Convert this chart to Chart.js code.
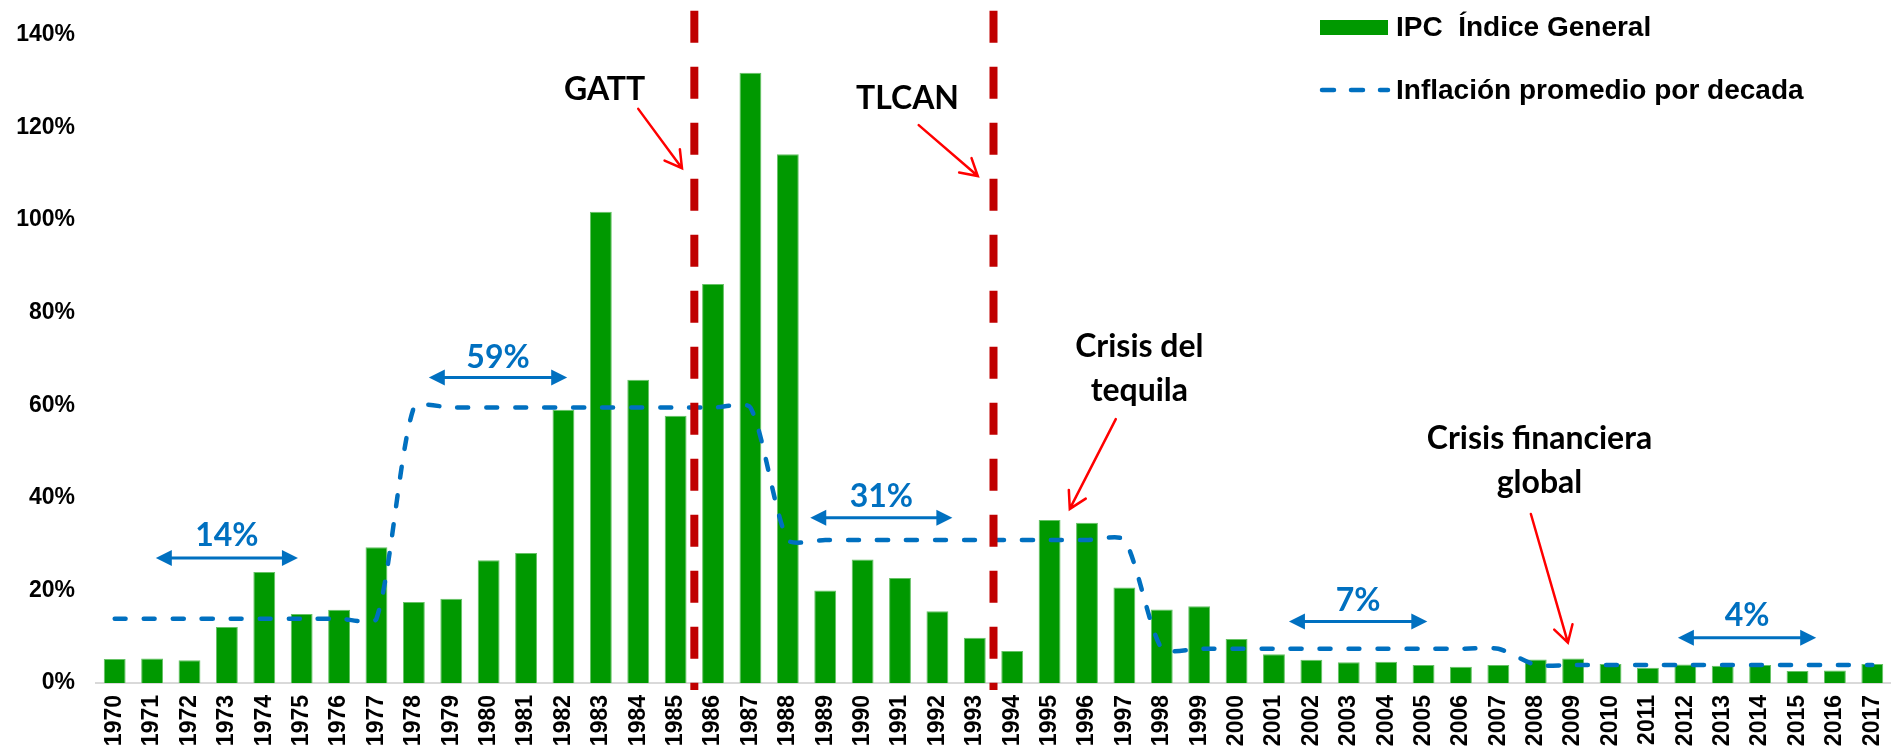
<!DOCTYPE html>
<html>
<head>
<meta charset="utf-8">
<script src="https://cdn.jsdelivr.net/npm/chart.js@4/dist/chart.umd.min.js"></script>
<style>
    html, body { margin: 0; padding: 0; background: #fff; }
    #wrap { width: 1891px; height: 749px; }
</style>
</head>
<body>
<div id="wrap"><canvas id="chart" width="1891" height="749"></canvas></div>
<script>
// Inflación anual México (IPC) y promedio por década

const years = ['1970', '1971', '1972', '1973', '1974', '1975', '1976', '1977', '1978', '1979',
    '1980', '1981', '1982', '1983', '1984', '1985', '1986', '1987', '1988', '1989',
    '1990', '1991', '1992', '1993', '1994', '1995', '1996', '1997', '1998', '1999',
    '2000', '2001', '2002', '2003', '2004', '2005', '2006', '2007', '2008', '2009',
    '2010', '2011', '2012', '2013', '2014', '2015', '2016', '2017'];

const ipc = [5.2, 5.3, 4.9, 12.1, 24.0, 14.9, 15.8, 29.3, 17.5, 18.2,
    26.5, 28.1, 59.0, 101.8, 65.5, 57.7, 86.2, 131.8, 114.2, 20.0,
    26.7, 22.7, 15.5, 9.8, 6.9, 35.2, 34.6, 20.6, 15.9, 16.6,
    9.5, 6.2, 5.0, 4.5, 4.6, 3.9, 3.5, 3.9, 5.1, 5.3,
    4.1, 3.3, 4.0, 3.7, 3.9, 2.6, 2.7, 4.1];

const promedioDecada = [13.9, 13.9, 13.9, 13.9, 13.9, 13.9, 13.9, 13.9, 59.5, 59.5,
    59.5, 59.5, 59.5, 59.5, 59.5, 59.5, 59.5, 59.5, 30.9, 30.9,
    30.9, 30.9, 30.9, 30.9, 30.9, 30.9, 30.9, 30.9, 7.4, 7.4,
    7.4, 7.4, 7.4, 7.4, 7.4, 7.4, 7.4, 7.4, 3.9, 3.9,
    3.9, 3.9, 3.9, 3.9, 3.9, 3.9, 3.9, 3.9];

const yTicks = [0, 20, 40, 60, 80, 100, 120, 140];

// eventos: posición entre categorías (índice)
const eventos = [15.5, 23.5];

// flechas azules de cada década: [texto, desde, hasta, valor flecha, valor texto]
const decadas = [
    ['14%', 1.1, 4.9, 27.0, 29.6],
    ['59%', 8.4, 12.1, 66.0, 68.1],
    ['31%', 18.6, 22.4, 35.7, 38.1],
    ['7%', 31.4, 35.1, 13.3, 15.6],
    ['4%', 41.8, 45.5, 9.8, 12.4]
];

// notas: [texto, índice, valor de la línea base]
const notas = [
    ['GATT', 13.1, 125.9],
    ['TLCAN', 21.2, 123.9],
    ['Crisis del', 27.4, 70.5],
    ['tequila', 27.4, 60.8],
    ['Crisis financiera', 38.1, 50.5],
    ['global', 38.1, 41.0]
];

// flechas rojas: [índice inicio, valor inicio, índice fin, valor fin]
const flechas = [
    [14.0, 124.0, 15.17, 111.2],
    [21.5, 120.5, 23.08, 109.5],
    [26.77, 57.0, 25.54, 37.6],
    [37.87, 36.5, 38.86, 8.7]
];

const VERDE = '#009900';
const AZUL = '#0070C0';
const ROJO_OSCURO = '#C00000';
const ROJO = '#FF0000';
const FONT_ARIAL = '"Liberation Sans", Arial, sans-serif';
const FONT_NOTA = 'Lato, "Open Sans", sans-serif';

function flechaAzul(ctx, x1, x2, y) {
    const head = 16, half = 8;
    ctx.strokeStyle = AZUL;
    ctx.fillStyle = AZUL;
    ctx.lineWidth = 3;
    ctx.setLineDash([]);
    ctx.beginPath();
    ctx.moveTo(x1 + head - 2, y);
    ctx.lineTo(x2 - head + 2, y);
    ctx.stroke();
    ctx.beginPath();
    ctx.moveTo(x1, y);
    ctx.lineTo(x1 + head, y - half);
    ctx.lineTo(x1 + head, y + half);
    ctx.closePath();
    ctx.fill();
    ctx.beginPath();
    ctx.moveTo(x2, y);
    ctx.lineTo(x2 - head, y - half);
    ctx.lineTo(x2 - head, y + half);
    ctx.closePath();
    ctx.fill();
}

function flechaRoja(ctx, x1, y1, x2, y2) {
    const ang = Math.atan2(y2 - y1, x2 - x1);
    const len = 19, spread = Math.PI / 6;
    ctx.strokeStyle = ROJO;
    ctx.lineWidth = 2.5;
    ctx.setLineDash([]);
    ctx.lineCap = 'round';
    ctx.beginPath();
    ctx.moveTo(x1, y1);
    ctx.lineTo(x2, y2);
    ctx.moveTo(x2 - len * Math.cos(ang - spread), y2 - len * Math.sin(ang - spread));
    ctx.lineTo(x2, y2);
    ctx.lineTo(x2 - len * Math.cos(ang + spread), y2 - len * Math.sin(ang + spread));
    ctx.stroke();
}

const anotaciones = {
    id: 'anotaciones',
    afterDatasetsDraw(chart) {
        const ctx = chart.ctx;
        const x = chart.scales.x;
        const y = chart.scales.y;
        ctx.save();

        // líneas verticales GATT / TLCAN
        eventos.forEach(ev => {
            const px = x.getPixelForValue(ev);
            ctx.strokeStyle = ROJO_OSCURO;
            ctx.lineWidth = 8;
            ctx.lineCap = 'butt';
            ctx.setLineDash([32, 24]);
            ctx.beginPath();
            ctx.moveTo(px, y.getPixelForValue(145.2));
            ctx.lineTo(px, y.getPixelForValue(-1.5));
            ctx.stroke();
        });

        // promedios por década
        decadas.forEach(([txt, a, b, va, vt]) => {
            const x1 = x.getPixelForValue(a);
            const x2 = x.getPixelForValue(b);
            flechaAzul(ctx, x1, x2, y.getPixelForValue(va));
            ctx.fillStyle = AZUL;
            ctx.font = 'bold 32px ' + FONT_NOTA;
            ctx.textAlign = 'center';
            ctx.textBaseline = 'alphabetic';
            ctx.fillText(txt, (x1 + x2) / 2, y.getPixelForValue(vt));
        });

        // notas de texto
        notas.forEach(([txt, i, v]) => {
            ctx.fillStyle = '#000';
            ctx.font = 'bold 32px ' + FONT_NOTA;
            ctx.textAlign = 'center';
            ctx.textBaseline = 'alphabetic';
            ctx.fillText(txt, x.getPixelForValue(i), y.getPixelForValue(v));
        });

        flechas.forEach(([i1, v1, i2, v2]) => {
            flechaRoja(ctx, x.getPixelForValue(i1), y.getPixelForValue(v1),
                x.getPixelForValue(i2), y.getPixelForValue(v2));
        });

        // leyenda
        const lx = 1320;
        ctx.fillStyle = VERDE;
        ctx.fillRect(lx, 20, 68, 15);
        ctx.strokeStyle = AZUL;
        ctx.lineWidth = 4.5;
        ctx.lineCap = 'round';
        ctx.setLineDash([12, 17]);
        ctx.beginPath();
        ctx.moveTo(lx + 2, 90);
        ctx.lineTo(lx + 68, 90);
        ctx.stroke();
        ctx.setLineDash([]);
        ctx.fillStyle = '#000';
        ctx.font = 'bold 28px ' + FONT_ARIAL;
        ctx.textAlign = 'left';
        ctx.textBaseline = 'middle';
        ctx.fillText('IPC  Índice General', lx + 76, 28);
        ctx.fillText('Inflación promedio por decada', lx + 76, 91);

        ctx.restore();
    }
};

new Chart(document.getElementById('chart'), {
    data: {
        labels: years,
        datasets: [
            {
                type: 'line',
                label: 'Inflación promedio por decada',
                data: promedioDecada,
                borderColor: AZUL,
                borderWidth: 4.5,
                borderDash: [11, 18],
                borderCapStyle: 'round',
                pointRadius: 0,
                tension: 0.22,
                fill: false,
                order: 0
            },
            {
                type: 'bar',
                label: 'IPC  Índice General',
                data: ipc,
                backgroundColor: VERDE,
                borderColor: '#66c266',
                borderWidth: 1,
                barPercentage: 0.585,
                categoryPercentage: 1.0,
                order: 1
            }
        ]
    },
    options: {
        responsive: false,
        animation: false,
        devicePixelRatio: 1,
        layout: { padding: { top: 34, right: 0, left: 0, bottom: 0 } },
        plugins: {
            legend: { display: false },
            tooltip: { enabled: false }
        },
        scales: {
            x: {
                grid: { display: false, drawTicks: false },
                border: { color: '#d9d9d9', width: 2 },
                ticks: {
                    color: '#000',
                    font: { family: FONT_ARIAL, size: 23, weight: 'bold' },
                    minRotation: 90,
                    maxRotation: 90,
                    autoSkip: false,
                    padding: 12
                },
                afterFit: s => {
                    s.height = 66;
                    s.paddingLeft = 0;
                    s.paddingRight = 0;
                }
            },
            y: {
                min: 0,
                max: 140,
                afterBuildTicks: s => { s.ticks = yTicks.map(v => ({ value: v })); },
                grid: { display: false, drawTicks: false },
                border: { display: false },
                ticks: {
                    color: '#000',
                    font: { family: FONT_ARIAL, size: 23, weight: 'bold' },
                    padding: 21,
                    callback: v => v + '%'
                },
                afterFit: s => { s.width = 96; }
            }
        }
    },
    plugins: [anotaciones]
});
</script>
</body>
</html>
